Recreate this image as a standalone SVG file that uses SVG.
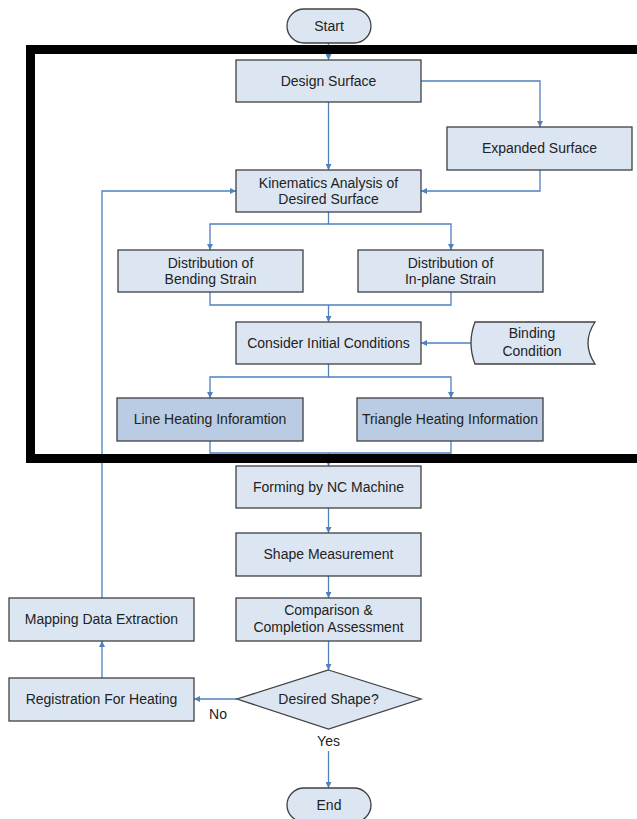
<svg xmlns="http://www.w3.org/2000/svg" width="637" height="819" viewBox="0 0 637 819">
<defs>
<style>
.box{fill:#dce6f2;stroke:#404040;stroke-width:1.3}
.dark{fill:#b9cce4;stroke:#404040;stroke-width:1.3}
.c{fill:none;stroke:#4f81bd;stroke-width:1.3}
text{font-family:"Liberation Sans",Arial,sans-serif;font-size:14px;fill:#222;text-anchor:middle}
</style>
<marker id="ah" viewBox="0 0 8 8" refX="8" refY="4" markerWidth="6" markerHeight="6" markerUnits="userSpaceOnUse" orient="auto">
<path d="M0,0 L8,4 L0,8 Z" fill="#4f81bd"/>
</marker>
</defs>
<rect width="637" height="819" fill="#fff"/>
<g id="connectors">
<path class="c" d="M328.5,43 V60" marker-end="url(#ah)"/>
<path class="c" d="M421,81 H540 V127" marker-end="url(#ah)"/>
<path class="c" d="M328.5,102 V170" marker-end="url(#ah)"/>
<path class="c" d="M540,170 V191 H421" marker-end="url(#ah)"/>
<path class="c" d="M328.5,212 V224 H210 V250" marker-end="url(#ah)"/>
<path class="c" d="M328.5,224 H451 V250" marker-end="url(#ah)"/>
<path class="c" d="M210,292 V305 H451 V292"/>
<path class="c" d="M328.5,305 V322" marker-end="url(#ah)"/>
<path class="c" d="M471,343 H421" marker-end="url(#ah)"/>
<path class="c" d="M328.5,364 V377 H210 V398" marker-end="url(#ah)"/>
<path class="c" d="M328.5,377 H451 V398" marker-end="url(#ah)"/>
<path class="c" d="M210,441 V453 H451 V441"/>
<path class="c" d="M328.5,453 V466" marker-end="url(#ah)"/>
<path class="c" d="M328.5,508 V533" marker-end="url(#ah)"/>
<path class="c" d="M328.5,576 V598" marker-end="url(#ah)"/>
<path class="c" d="M328.5,641 V670" marker-end="url(#ah)"/>
<path class="c" d="M237,699 H194" marker-end="url(#ah)"/>
<path class="c" d="M102,678 V641" marker-end="url(#ah)"/>
<path class="c" d="M102,598 V191 H236" marker-end="url(#ah)"/>
<path class="c" d="M328.5,751 V788" marker-end="url(#ah)"/>
<text x="218" y="719">No</text>
<text x="328.5" y="746">Yes</text>
</g>
<g id="start"><rect class="box" x="287" y="9" width="84" height="34" rx="17"/><text x="329" y="31">Start</text></g>
<g id="design"><rect class="box" x="236" y="60" width="185" height="42"/><text x="328.5" y="86">Design Surface</text></g>
<g id="expanded"><rect class="box" x="447" y="127" width="185" height="43"/><text x="539.5" y="153">Expanded Surface</text></g>
<g id="kinematics"><rect class="box" x="236" y="170" width="185" height="42"/><text x="328.5" y="188">Kinematics Analysis of</text><text x="328.5" y="204">Desired Surface</text></g>
<g id="bending"><rect class="box" x="118" y="250" width="185" height="42"/><text x="210.5" y="268">Distribution of</text><text x="210.5" y="284">Bending Strain</text></g>
<g id="inplane"><rect class="box" x="358" y="250" width="185" height="42"/><text x="450.5" y="268">Distribution of</text><text x="450.5" y="284">In-plane Strain</text></g>
<g id="consider"><rect class="box" x="236" y="322" width="185" height="42"/><text x="328.5" y="348">Consider Initial Conditions</text></g>
<g id="binding"><path class="box" d="M475,322 H595 Q581,343 595,364 H475 Q467,343 475,322 Z"/><text x="532" y="338">Binding</text><text x="532" y="356">Condition</text></g>
<g id="lineheat"><rect class="dark" x="117" y="398" width="186" height="43"/><text x="210" y="424">Line Heating Inforamtion</text></g>
<g id="triheat"><rect class="dark" x="357" y="398" width="186" height="43"/><text x="450" y="424">Triangle Heating Information</text></g>
<g id="forming"><rect class="box" x="236" y="466" width="185" height="42"/><text x="328.5" y="492">Forming by NC Machine</text></g>
<g id="measure"><rect class="box" x="236" y="533" width="185" height="43"/><text x="328.5" y="559">Shape Measurement</text></g>
<g id="compare"><rect class="box" x="236" y="598" width="185" height="43"/><text x="328.5" y="615">Comparison &amp;</text><text x="328.5" y="632">Completion Assessment</text></g>
<g id="decision"><path class="box" d="M328.5,670 L421,699 L328.5,729 L237,699 Z"/><text x="328.5" y="704">Desired Shape?</text></g>
<g id="mapping"><rect class="box" x="9" y="598" width="185" height="43"/><text x="101.5" y="624">Mapping Data Extraction</text></g>
<g id="registration"><rect class="box" x="9" y="678" width="185" height="43"/><text x="101.5" y="704">Registration For Heating</text></g>
<g id="end"><rect class="box" x="287" y="788" width="84" height="34" rx="17"/><text x="329" y="810">End</text></g>
<g id="frame"><path d="M660,49.5 H30.5 V458.5 H660" fill="none" stroke="#000" stroke-width="9"/></g>
</svg>
